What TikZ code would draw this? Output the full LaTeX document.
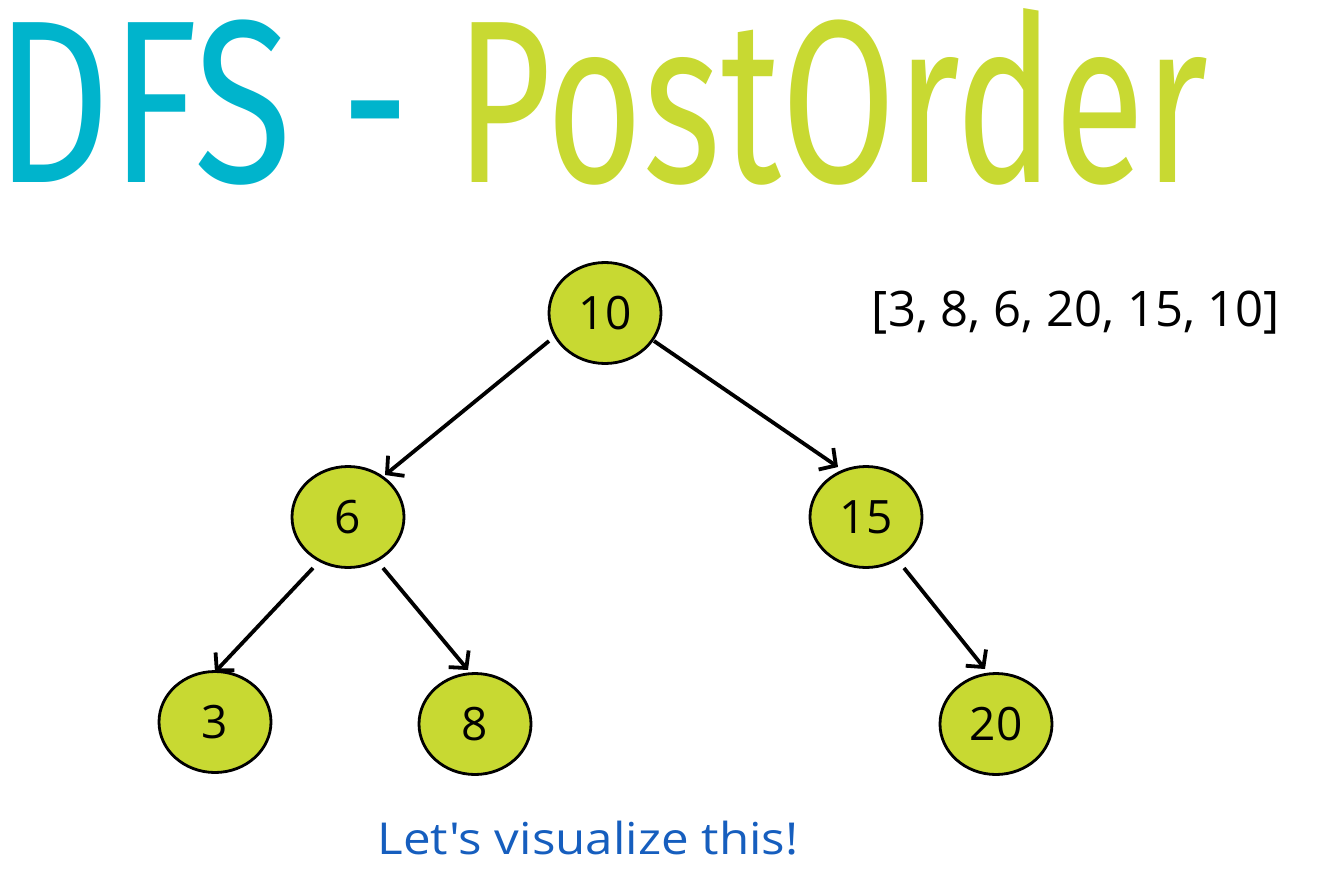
\documentclass[tikz,border=0pt]{standalone}
\usepackage{fontspec}
\setmainfont{Open Sans}
\newfontfamily\capfont{Open Sans}
\newfontfamily\titlefont{Fira Sans}
\usetikzlibrary{arrows.meta,calc,shapes.geometric}
\definecolor{titlecyan}{RGB}{0,180,204}
\definecolor{limegreen}{RGB}{200,217,50}
\definecolor{vizblue}{RGB}{22,94,190}
\tikzset{
  treenode/.style={ellipse,draw=black,line width=2.8pt,fill=limegreen,
    minimum width=112pt,minimum height=101pt,inner sep=0pt,
    font=\fontsize{46}{46}\selectfont},
  edge/.style={line width=3.8pt,-{Straight Barb[length=12pt,width=26pt,line width=3.8pt]}},
  titletext/.style={inner sep=0pt,font=\titlefont\fontsize{100}{100}\selectfont}
}
\begin{document}
\begin{tikzpicture}[x=1pt,y=-1pt]
\useasboundingbox (0,0) rectangle (1325,891);
% title
\node[titletext,anchor=base west,text=titlecyan] (titleA) at (-5,182) {\scalebox{1.79}[2.32]{DFS}};
\node[titletext,anchor=base,text=titlecyan] (titleB) at (376,182) {\scalebox{1.69}[2.32]{-}};
\node[titletext,anchor=base west,text=limegreen] (titleC) at (455,182) {\scalebox{1.66}[2.32]{PostOrder}};
% nodes
\node[treenode] (n10) at (605,313) {10};
\node[treenode] (n6) at (348,517) {6};
\node[treenode] (n15) at (866,517) {15};
\node[treenode] (n3) at (215,722) {3};
\node[treenode] (n8) at (475,724) {8};
\node[treenode] (n20) at (996,724) {20};
% edges
\draw[edge] ($(n10.center)+(-56,28)$) -- ($(n6.center)+(37,-42)$);
\draw[edge] ($(n10.center)+(49,28)$) -- ($(n15.center)+(-28,-50)$);
\draw[edge] ($(n6.center)+(-35,51)$) -- ($(n3.center)+(0,-50)$);
\draw[edge] ($(n6.center)+(35,51)$) -- ($(n8.center)+(-7,-54)$);
\draw[edge] ($(n15.center)+(38,51)$) -- ($(n20.center)+(-11,-55)$);
% result list
\node[font=\fontsize{49}{49}\selectfont] (result) at (1076,313) {[3, 8, 6, 20, 15, 10]};
% caption
\node[text=vizblue] (caption) at (588,838)
  {\scalebox{1.12}[1]{\capfont\fontsize{44}{44}\selectfont Let's visualize this!}};
\end{tikzpicture}
\end{document}
